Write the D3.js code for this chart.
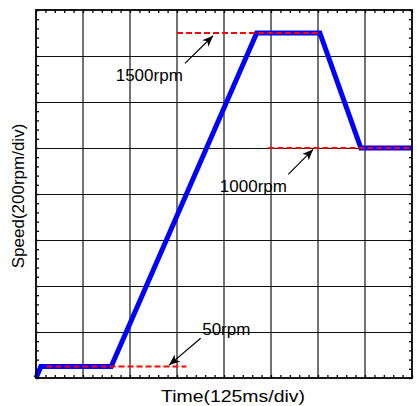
<!DOCTYPE html>
<html>
<head>
<meta charset="utf-8">
<script src="https://cdn.jsdelivr.net/npm/d3@7"></script>
<style>
html,body{margin:0;padding:0;background:#fff;}
svg{display:block;font-family:Arial,"Liberation Sans",Helvetica,sans-serif;}
</style>
</head>
<body>
<svg id="chart" width="417" height="406"></svg>
<script>
// ---- data (time in ms, speed in rpm) ----
const speedTime = [0, 13, 200, 587, 755, 864, 1000];
const speedValue = [0, 50, 50, 1500, 1500, 1000, 1000];

const refLabels = ["50rpm", "1500rpm", "1000rpm"];
const refValue = [50, 1500, 1000];
const refStart = [28, 375, 618];
const refEnd = [400, 750, 1000];

// annotation arrows: tail -> head, in data units
const arrowTailT = [438, 396, 671];
const arrowTailR = [173, 1368, 885];
const arrowHeadT = [354, 471, 737];
const arrowHeadR = [56, 1488, 994];
const labelT = [442, 212, 489];
const labelR = [187, 1291, 807];

const xDomain = [0, 1000];   // 125 ms/div, 8 divisions
const yDomain = [0, 1600];   // 200 rpm/div, 8 divisions
const divisions = 8;
const minorPerDiv = 5;

const xTitle = "Time(125ms/div)";
const yTitle = "Speed(200rpm/div)";

// ---- layout ----
const svg = d3.select("#chart");
const L = 36, R = 412, T = 10, B = 378;
const x = d3.scaleLinear().domain(xDomain).range([L, R]);
const y = d3.scaleLinear().domain(yDomain).range([B, T]);

const majorX = d3.range(divisions + 1).map(i => xDomain[0] + i * (xDomain[1] - xDomain[0]) / divisions);
const majorY = d3.range(divisions + 1).map(i => yDomain[0] + i * (yDomain[1] - yDomain[0]) / divisions);
const minorX = d3.range(divisions * minorPerDiv + 1).map(i => xDomain[0] + i * (xDomain[1] - xDomain[0]) / (divisions * minorPerDiv));
const minorY = d3.range(divisions * minorPerDiv + 1).map(i => yDomain[0] + i * (yDomain[1] - yDomain[0]) / (divisions * minorPerDiv));

// grid
const grid = svg.append("g");
grid.selectAll("line.vg").data(majorX.slice(1, -1)).join("line").attr("class", "vg")
  .attr("x1", d => x(d)).attr("x2", d => x(d))
  .attr("y1", T).attr("y2", B)
  .attr("stroke", "#444").attr("stroke-width", 1.5);
grid.selectAll("line.hg").data(majorY.slice(1, -1)).join("line").attr("class", "hg")
  .attr("y1", d => Math.round(y(d)) + 0.5).attr("y2", d => Math.round(y(d)) + 0.5)
  .attr("x1", L).attr("x2", R)
  .attr("stroke", "#111").attr("stroke-width", 1.1);

// axes with inward minor ticks on all four sides
const tickLen = 3;
svg.append("g").attr("transform", `translate(0,${B})`)
  .call(d3.axisBottom(x).tickValues(minorX).tickSizeInner(-tickLen).tickSizeOuter(0).tickFormat(""))
  .call(g => g.select(".domain").remove());
svg.append("g").attr("transform", `translate(0,${T})`)
  .call(d3.axisTop(x).tickValues(minorX).tickSizeInner(-tickLen).tickSizeOuter(0).tickFormat(""))
  .call(g => g.select(".domain").remove());
svg.append("g").attr("transform", `translate(${L},0)`)
  .call(d3.axisLeft(y).tickValues(minorY).tickSizeInner(-tickLen).tickSizeOuter(0).tickFormat(""))
  .call(g => g.select(".domain").remove());
svg.append("g").attr("transform", `translate(${R},0)`)
  .call(d3.axisRight(y).tickValues(minorY).tickSizeInner(-tickLen).tickSizeOuter(0).tickFormat(""))
  .call(g => g.select(".domain").remove());
svg.selectAll(".tick line").attr("stroke", "#000").attr("stroke-width", 1.3);

// speed curve
const pts = speedTime.map((t, i) => [t, speedValue[i]]);
svg.append("path").datum(pts)
  .attr("d", d3.line().x(d => x(d[0])).y(d => y(d[1])))
  .attr("fill", "none").attr("stroke", "#0000ff").attr("stroke-width", 5)
  .attr("stroke-linejoin", "miter");

// reference dashed lines
svg.selectAll("line.ref").data(refValue).join("line").attr("class", "ref")
  .attr("x1", (d, i) => x(refStart[i])).attr("x2", (d, i) => x(refEnd[i]))
  .attr("y1", d => y(d)).attr("y2", d => y(d))
  .attr("stroke", "#ff0000").attr("stroke-width", 1.8).attr("stroke-dasharray", "6,3");

// arrows (shaft + filled head, built from data coordinates)
const arrows = refLabels.map((d, i) => ({
  x1: x(arrowTailT[i]), y1: y(arrowTailR[i]),
  x2: x(arrowHeadT[i]), y2: y(arrowHeadR[i])
}));
const ag = svg.append("g");
ag.selectAll("path.shaft").data(arrows).join("path").attr("class", "shaft")
  .attr("d", a => `M${a.x1},${a.y1}L${a.x2},${a.y2}`)
  .attr("fill", "none").attr("stroke", "#000").attr("stroke-width", 1.2);
ag.selectAll("path.head").data(arrows).join("path").attr("class", "head")
  .attr("d", a => {
    const ang = Math.atan2(a.y2 - a.y1, a.x2 - a.x1);
    const len = 11, half = 4.5, back = 8;
    const ux = Math.cos(ang), uy = Math.sin(ang);
    const bx = a.x2 - ux * len, by = a.y2 - uy * len;
    const nx = a.x2 - ux * back, ny = a.y2 - uy * back;
    return `M${a.x2},${a.y2}L${bx - uy * half},${by + ux * half}L${nx},${ny}L${bx + uy * half},${by - ux * half}Z`;
  })
  .attr("fill", "#000");

// labels
svg.selectAll("text.lab").data(refLabels).join("text").attr("class", "lab")
  .attr("x", (d, i) => x(labelT[i])).attr("y", (d, i) => y(labelR[i]))
  .attr("font-size", 17).attr("fill", "#000").text(d => d);

// frame
svg.append("rect").attr("x", L).attr("y", T).attr("width", R - L).attr("height", B - T)
  .attr("fill", "none").attr("stroke", "#000").attr("stroke-width", 1.8);

// axis titles
svg.append("text").attr("x", 161).attr("y", 401.5)
  .attr("font-size", 17).attr("textLength", 144).attr("lengthAdjust", "spacingAndGlyphs")
  .text(xTitle);
svg.append("text").attr("transform", "translate(24,196) rotate(-90)")
  .attr("text-anchor", "middle").attr("font-size", 17).text(yTitle);
</script>
</body>
</html>
